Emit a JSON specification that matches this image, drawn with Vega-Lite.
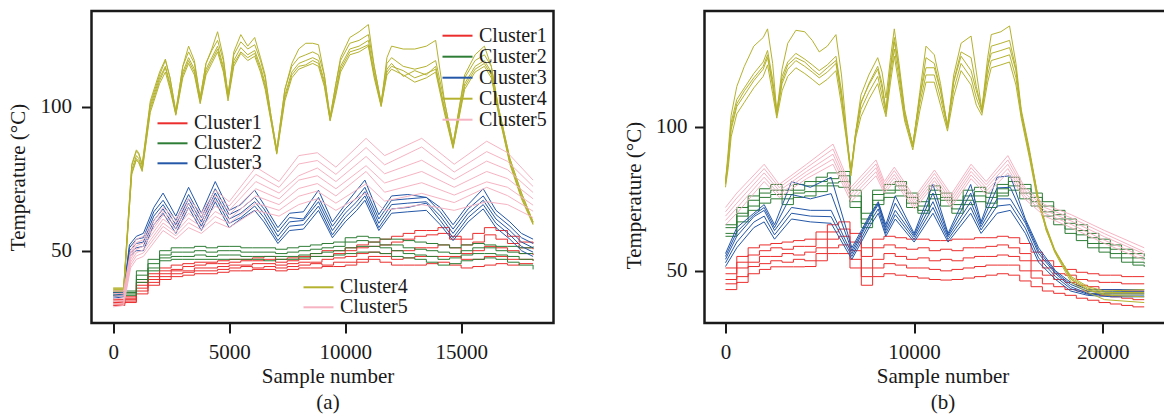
{
"$schema":"https://vega.github.io/schema/vega-lite/v6.json",
"padding":{"left":5.5,"top":9,"right":0,"bottom":0},
"spacing":66,
"config":{
"font":"Liberation Serif, serif",
"view":{"stroke":"#1a1a1a","strokeWidth":2.5},
"axis":{"labelFont":"Liberation Serif, serif","labelFontSize":21,"labelColor":"#1a1a1a","titleFont":"Liberation Serif, serif","titleFontSize":21,"titleFontWeight":"normal","titleColor":"#1a1a1a","tickColor":"#1a1a1a","tickWidth":2,"tickSize":10,"domain":false,"grid":false,"labelPadding":8,"titlePadding":3,"labelFlush":false},
"legend":{"symbolType":"M-3,0H3","symbolSize":100,"symbolStrokeWidth":2,"labelFont":"Liberation Serif, serif","labelFontSize":20,"labelColor":"#1a1a1a","labelOffset":11.5,"padding":0,"labelLimit":0}
},
"datasets":{
"a1":[
{"l":1,"x":0,"y":33},{"l":1,"x":500,"y":34},{"l":1,"x":1000,"y":39},{"l":1,"x":1500,"y":42},{"l":1,"x":2000,"y":44},{"l":1,"x":2500,"y":45},{"l":1,"x":3000,"y":45.5},{"l":1,"x":3500,"y":46},{"l":1,"x":4000,"y":46},{"l":1,"x":4500,"y":46.5},{"l":1,"x":5000,"y":47},{"l":1,"x":5500,"y":47},{"l":1,"x":6000,"y":47.5},{"l":1,"x":6500,"y":48},{"l":1,"x":7000,"y":47},{"l":1,"x":7500,"y":47.5},{"l":1,"x":8000,"y":48},{"l":1,"x":8500,"y":49},{"l":1,"x":9000,"y":50},{"l":1,"x":9500,"y":50},{"l":1,"x":10000,"y":51},{"l":1,"x":10500,"y":52},{"l":1,"x":11000,"y":53},{"l":1,"x":11500,"y":54},{"l":1,"x":12000,"y":55},{"l":1,"x":12500,"y":56},{"l":1,"x":13000,"y":57},{"l":1,"x":13500,"y":57},{"l":1,"x":14000,"y":58},{"l":1,"x":14500,"y":55},{"l":1,"x":15000,"y":54},{"l":1,"x":15500,"y":56},{"l":1,"x":16000,"y":58},{"l":1,"x":16500,"y":57},{"l":1,"x":17000,"y":55},{"l":1,"x":17500,"y":53},{"l":1,"x":18100,"y":52.5},
{"l":2,"x":0,"y":32.5},{"l":2,"x":500,"y":33.5},{"l":2,"x":1000,"y":38},{"l":2,"x":1500,"y":41},{"l":2,"x":2000,"y":43},{"l":2,"x":2500,"y":43.5},{"l":2,"x":3000,"y":44.5},{"l":2,"x":3500,"y":45},{"l":2,"x":4000,"y":45.5},{"l":2,"x":4500,"y":45.5},{"l":2,"x":5000,"y":46},{"l":2,"x":5500,"y":46.5},{"l":2,"x":6000,"y":46.5},{"l":2,"x":6500,"y":47},{"l":2,"x":7000,"y":46},{"l":2,"x":7500,"y":46.5},{"l":2,"x":8000,"y":47},{"l":2,"x":8500,"y":48},{"l":2,"x":9000,"y":48},{"l":2,"x":9500,"y":49},{"l":2,"x":10000,"y":50},{"l":2,"x":10500,"y":51},{"l":2,"x":11000,"y":51.5},{"l":2,"x":11500,"y":52},{"l":2,"x":12000,"y":53},{"l":2,"x":12500,"y":54},{"l":2,"x":13000,"y":55},{"l":2,"x":13500,"y":55.5},{"l":2,"x":14000,"y":56},{"l":2,"x":14500,"y":54},{"l":2,"x":15000,"y":52},{"l":2,"x":15500,"y":53},{"l":2,"x":16000,"y":55.5},{"l":2,"x":16500,"y":54},{"l":2,"x":17000,"y":52.5},{"l":2,"x":17500,"y":51},{"l":2,"x":18100,"y":50.5},
{"l":3,"x":0,"y":32},{"l":3,"x":500,"y":33},{"l":3,"x":1000,"y":37},{"l":3,"x":1500,"y":40},{"l":3,"x":2000,"y":42},{"l":3,"x":2500,"y":43},{"l":3,"x":3000,"y":43},{"l":3,"x":3500,"y":44},{"l":3,"x":4000,"y":44},{"l":3,"x":4500,"y":44.5},{"l":3,"x":5000,"y":45},{"l":3,"x":5500,"y":45},{"l":3,"x":6000,"y":45.5},{"l":3,"x":6500,"y":45.5},{"l":3,"x":7000,"y":45},{"l":3,"x":7500,"y":45.5},{"l":3,"x":8000,"y":46},{"l":3,"x":8500,"y":46},{"l":3,"x":9000,"y":47},{"l":3,"x":9500,"y":47.5},{"l":3,"x":10000,"y":48},{"l":3,"x":10500,"y":49},{"l":3,"x":11000,"y":49.5},{"l":3,"x":11500,"y":49},{"l":3,"x":12000,"y":50},{"l":3,"x":12500,"y":50},{"l":3,"x":13000,"y":51},{"l":3,"x":13500,"y":51},{"l":3,"x":14000,"y":52},{"l":3,"x":14500,"y":51},{"l":3,"x":15000,"y":49},{"l":3,"x":15500,"y":50},{"l":3,"x":16000,"y":51.5},{"l":3,"x":16500,"y":51},{"l":3,"x":17000,"y":50},{"l":3,"x":17500,"y":49},{"l":3,"x":18100,"y":48.5},
{"l":4,"x":0,"y":31.5},{"l":4,"x":500,"y":32.5},{"l":4,"x":1000,"y":36},{"l":4,"x":1500,"y":39},{"l":4,"x":2000,"y":41},{"l":4,"x":2500,"y":42},{"l":4,"x":3000,"y":42.5},{"l":4,"x":3500,"y":43},{"l":4,"x":4000,"y":43},{"l":4,"x":4500,"y":43.5},{"l":4,"x":5000,"y":44},{"l":4,"x":5500,"y":44.5},{"l":4,"x":6000,"y":44},{"l":4,"x":6500,"y":44.5},{"l":4,"x":7000,"y":44},{"l":4,"x":7500,"y":44.5},{"l":4,"x":8000,"y":45},{"l":4,"x":8500,"y":45.5},{"l":4,"x":9000,"y":45},{"l":4,"x":9500,"y":46},{"l":4,"x":10000,"y":46},{"l":4,"x":10500,"y":47},{"l":4,"x":11000,"y":48},{"l":4,"x":11500,"y":48},{"l":4,"x":12000,"y":47},{"l":4,"x":12500,"y":47.5},{"l":4,"x":13000,"y":48},{"l":4,"x":13500,"y":48},{"l":4,"x":14000,"y":48},{"l":4,"x":14500,"y":48},{"l":4,"x":15000,"y":47},{"l":4,"x":15500,"y":47},{"l":4,"x":16000,"y":48},{"l":4,"x":16500,"y":48},{"l":4,"x":17000,"y":47},{"l":4,"x":17500,"y":47},{"l":4,"x":18100,"y":46.5},
{"l":5,"x":0,"y":31},{"l":5,"x":500,"y":32},{"l":5,"x":1000,"y":35},{"l":5,"x":1500,"y":38},{"l":5,"x":2000,"y":40},{"l":5,"x":2500,"y":41},{"l":5,"x":3000,"y":41.5},{"l":5,"x":3500,"y":42},{"l":5,"x":4000,"y":42},{"l":5,"x":4500,"y":42.5},{"l":5,"x":5000,"y":43},{"l":5,"x":5500,"y":43},{"l":5,"x":6000,"y":43.5},{"l":5,"x":6500,"y":43.5},{"l":5,"x":7000,"y":43},{"l":5,"x":7500,"y":43.5},{"l":5,"x":8000,"y":44},{"l":5,"x":8500,"y":44},{"l":5,"x":9000,"y":44.5},{"l":5,"x":9500,"y":44.5},{"l":5,"x":10000,"y":45},{"l":5,"x":10500,"y":46},{"l":5,"x":11000,"y":47},{"l":5,"x":11500,"y":46},{"l":5,"x":12000,"y":45},{"l":5,"x":12500,"y":45},{"l":5,"x":13000,"y":45},{"l":5,"x":13500,"y":45.5},{"l":5,"x":14000,"y":46},{"l":5,"x":14500,"y":45},{"l":5,"x":15000,"y":44},{"l":5,"x":15500,"y":44.5},{"l":5,"x":16000,"y":45},{"l":5,"x":16500,"y":45.5},{"l":5,"x":17000,"y":45},{"l":5,"x":17500,"y":45.5},{"l":5,"x":18100,"y":45.5}
],
"a2":[
{"l":1,"x":0,"y":36},{"l":1,"x":500,"y":36},{"l":1,"x":1000,"y":43},{"l":1,"x":1500,"y":47},{"l":1,"x":2000,"y":50},{"l":1,"x":2500,"y":51},{"l":1,"x":3000,"y":51},{"l":1,"x":3500,"y":51.5},{"l":1,"x":4000,"y":51},{"l":1,"x":4500,"y":51.5},{"l":1,"x":5000,"y":51.5},{"l":1,"x":5500,"y":51},{"l":1,"x":6000,"y":51},{"l":1,"x":6500,"y":51},{"l":1,"x":7000,"y":50.5},{"l":1,"x":7500,"y":51},{"l":1,"x":8000,"y":51.5},{"l":1,"x":8500,"y":52},{"l":1,"x":9000,"y":52.5},{"l":1,"x":9500,"y":53},{"l":1,"x":10000,"y":54.5},{"l":1,"x":10500,"y":55},{"l":1,"x":11000,"y":54.5},{"l":1,"x":11500,"y":54},{"l":1,"x":12000,"y":54},{"l":1,"x":12500,"y":53.5},{"l":1,"x":13000,"y":53},{"l":1,"x":13500,"y":52.5},{"l":1,"x":14000,"y":52},{"l":1,"x":14500,"y":51},{"l":1,"x":15000,"y":52},{"l":1,"x":15500,"y":52.5},{"l":1,"x":16000,"y":52},{"l":1,"x":16500,"y":51.5},{"l":1,"x":17000,"y":51.5},{"l":1,"x":17500,"y":51},{"l":1,"x":18100,"y":51.5},
{"l":2,"x":0,"y":35.5},{"l":2,"x":500,"y":35.5},{"l":2,"x":1000,"y":41.5},{"l":2,"x":1500,"y":45.5},{"l":2,"x":2000,"y":48.5},{"l":2,"x":2500,"y":49.5},{"l":2,"x":3000,"y":49.5},{"l":2,"x":3500,"y":50},{"l":2,"x":4000,"y":49.5},{"l":2,"x":4500,"y":50},{"l":2,"x":5000,"y":50},{"l":2,"x":5500,"y":49.5},{"l":2,"x":6000,"y":49.5},{"l":2,"x":6500,"y":49.5},{"l":2,"x":7000,"y":49},{"l":2,"x":7500,"y":49.5},{"l":2,"x":8000,"y":50},{"l":2,"x":8500,"y":50.5},{"l":2,"x":9000,"y":51},{"l":2,"x":9500,"y":51.5},{"l":2,"x":10000,"y":53},{"l":2,"x":10500,"y":53.5},{"l":2,"x":11000,"y":53},{"l":2,"x":11500,"y":52},{"l":2,"x":12000,"y":52},{"l":2,"x":12500,"y":51},{"l":2,"x":13000,"y":50.5},{"l":2,"x":13500,"y":50},{"l":2,"x":14000,"y":49.5},{"l":2,"x":14500,"y":49},{"l":2,"x":15000,"y":50},{"l":2,"x":15500,"y":51},{"l":2,"x":16000,"y":51},{"l":2,"x":16500,"y":50},{"l":2,"x":17000,"y":49.5},{"l":2,"x":17500,"y":49},{"l":2,"x":18100,"y":49},
{"l":3,"x":0,"y":35},{"l":3,"x":500,"y":35},{"l":3,"x":1000,"y":40},{"l":3,"x":1500,"y":44},{"l":3,"x":2000,"y":47.5},{"l":3,"x":2500,"y":48},{"l":3,"x":3000,"y":48},{"l":3,"x":3500,"y":48.5},{"l":3,"x":4000,"y":48},{"l":3,"x":4500,"y":48.5},{"l":3,"x":5000,"y":48.5},{"l":3,"x":5500,"y":48},{"l":3,"x":6000,"y":48},{"l":3,"x":6500,"y":48},{"l":3,"x":7000,"y":48},{"l":3,"x":7500,"y":48},{"l":3,"x":8000,"y":48.5},{"l":3,"x":8500,"y":49},{"l":3,"x":9000,"y":49.5},{"l":3,"x":9500,"y":50},{"l":3,"x":10000,"y":51},{"l":3,"x":10500,"y":51.5},{"l":3,"x":11000,"y":51.5},{"l":3,"x":11500,"y":51},{"l":3,"x":12000,"y":50},{"l":3,"x":12500,"y":49},{"l":3,"x":13000,"y":48.5},{"l":3,"x":13500,"y":48},{"l":3,"x":14000,"y":47},{"l":3,"x":14500,"y":47.5},{"l":3,"x":15000,"y":48.5},{"l":3,"x":15500,"y":49},{"l":3,"x":16000,"y":49},{"l":3,"x":16500,"y":48.5},{"l":3,"x":17000,"y":48},{"l":3,"x":17500,"y":47},{"l":3,"x":18100,"y":46.5},
{"l":4,"x":0,"y":34.5},{"l":4,"x":500,"y":34.5},{"l":4,"x":1000,"y":39},{"l":4,"x":1500,"y":43},{"l":4,"x":2000,"y":46.5},{"l":4,"x":2500,"y":47},{"l":4,"x":3000,"y":47},{"l":4,"x":3500,"y":47},{"l":4,"x":4000,"y":47},{"l":4,"x":4500,"y":47},{"l":4,"x":5000,"y":47},{"l":4,"x":5500,"y":47},{"l":4,"x":6000,"y":47},{"l":4,"x":6500,"y":46.5},{"l":4,"x":7000,"y":47},{"l":4,"x":7500,"y":47},{"l":4,"x":8000,"y":47.5},{"l":4,"x":8500,"y":48},{"l":4,"x":9000,"y":48},{"l":4,"x":9500,"y":48.5},{"l":4,"x":10000,"y":49},{"l":4,"x":10500,"y":49.5},{"l":4,"x":11000,"y":49.5},{"l":4,"x":11500,"y":49},{"l":4,"x":12000,"y":48},{"l":4,"x":12500,"y":47.5},{"l":4,"x":13000,"y":47},{"l":4,"x":13500,"y":46},{"l":4,"x":14000,"y":45},{"l":4,"x":14500,"y":45.5},{"l":4,"x":15000,"y":46.5},{"l":4,"x":15500,"y":47},{"l":4,"x":16000,"y":47.5},{"l":4,"x":16500,"y":47},{"l":4,"x":17000,"y":46},{"l":4,"x":17500,"y":45},{"l":4,"x":18100,"y":43.5}
],
"a3":[
{"l":1,"x":0,"y":35.5},{"l":1,"x":450,"y":36},{"l":1,"x":700,"y":52},{"l":1,"x":1000,"y":55},{"l":1,"x":1300,"y":56},{"l":1,"x":1750,"y":65},{"l":1,"x":2150,"y":70},{"l":1,"x":2700,"y":62},{"l":1,"x":3250,"y":72},{"l":1,"x":3800,"y":63},{"l":1,"x":4400,"y":74},{"l":1,"x":5000,"y":64},{"l":1,"x":5500,"y":66},{"l":1,"x":6100,"y":71},{"l":1,"x":6500,"y":66},{"l":1,"x":7100,"y":58},{"l":1,"x":7600,"y":63},{"l":1,"x":8200,"y":63.5},{"l":1,"x":8850,"y":71},{"l":1,"x":9450,"y":60},{"l":1,"x":10000,"y":66},{"l":1,"x":10500,"y":71},{"l":1,"x":10850,"y":74.5},{"l":1,"x":11450,"y":62.5},{"l":1,"x":12000,"y":69},{"l":1,"x":12700,"y":69.5},{"l":1,"x":13500,"y":68.5},{"l":1,"x":14100,"y":65},{"l":1,"x":14650,"y":59},{"l":1,"x":15300,"y":66},{"l":1,"x":15950,"y":71.5},{"l":1,"x":16500,"y":64},{"l":1,"x":17100,"y":60},{"l":1,"x":17600,"y":56},{"l":1,"x":18100,"y":54},
{"l":2,"x":0,"y":35},{"l":2,"x":450,"y":35.5},{"l":2,"x":700,"y":51},{"l":2,"x":1000,"y":54},{"l":2,"x":1300,"y":54.5},{"l":2,"x":1750,"y":63.5},{"l":2,"x":2150,"y":67.5},{"l":2,"x":2700,"y":60.5},{"l":2,"x":3250,"y":69.5},{"l":2,"x":3800,"y":61.5},{"l":2,"x":4400,"y":71.5},{"l":2,"x":5000,"y":62.5},{"l":2,"x":5500,"y":64.5},{"l":2,"x":6100,"y":68.5},{"l":2,"x":6500,"y":64.5},{"l":2,"x":7100,"y":56.5},{"l":2,"x":7600,"y":61.5},{"l":2,"x":8200,"y":61},{"l":2,"x":8850,"y":68.5},{"l":2,"x":9450,"y":58.5},{"l":2,"x":10000,"y":64.5},{"l":2,"x":10500,"y":68.5},{"l":2,"x":10850,"y":72},{"l":2,"x":11450,"y":61},{"l":2,"x":12000,"y":67.5},{"l":2,"x":12700,"y":68},{"l":2,"x":13500,"y":68.5},{"l":2,"x":14100,"y":63.5},{"l":2,"x":14650,"y":57.5},{"l":2,"x":15300,"y":64.5},{"l":2,"x":15950,"y":69},{"l":2,"x":16500,"y":62.5},{"l":2,"x":17100,"y":58.5},{"l":2,"x":17600,"y":54.5},{"l":2,"x":18100,"y":52.5},
{"l":3,"x":0,"y":34.5},{"l":3,"x":450,"y":35},{"l":3,"x":700,"y":50},{"l":3,"x":1000,"y":52.5},{"l":3,"x":1300,"y":53},{"l":3,"x":1750,"y":62},{"l":3,"x":2150,"y":66},{"l":3,"x":2700,"y":59},{"l":3,"x":3250,"y":68},{"l":3,"x":3800,"y":60},{"l":3,"x":4400,"y":70},{"l":3,"x":5000,"y":61},{"l":3,"x":5500,"y":63},{"l":3,"x":6100,"y":67},{"l":3,"x":6500,"y":63},{"l":3,"x":7100,"y":55},{"l":3,"x":7600,"y":60},{"l":3,"x":8200,"y":60.5},{"l":3,"x":8850,"y":67},{"l":3,"x":9450,"y":57},{"l":3,"x":10000,"y":63},{"l":3,"x":10500,"y":67},{"l":3,"x":10850,"y":70.5},{"l":3,"x":11450,"y":59.5},{"l":3,"x":12000,"y":66},{"l":3,"x":12700,"y":66.5},{"l":3,"x":13500,"y":67},{"l":3,"x":14100,"y":62},{"l":3,"x":14650,"y":56},{"l":3,"x":15300,"y":63},{"l":3,"x":15950,"y":67.5},{"l":3,"x":16500,"y":61},{"l":3,"x":17100,"y":57},{"l":3,"x":17600,"y":53},{"l":3,"x":18100,"y":51},
{"l":4,"x":0,"y":34},{"l":4,"x":450,"y":34.5},{"l":4,"x":700,"y":49},{"l":4,"x":1000,"y":51},{"l":4,"x":1300,"y":51.5},{"l":4,"x":1750,"y":60.5},{"l":4,"x":2150,"y":64.5},{"l":4,"x":2700,"y":57.5},{"l":4,"x":3250,"y":66.5},{"l":4,"x":3800,"y":58.5},{"l":4,"x":4400,"y":68.5},{"l":4,"x":5000,"y":59.5},{"l":4,"x":5500,"y":61.5},{"l":4,"x":6100,"y":65.5},{"l":4,"x":6500,"y":61.5},{"l":4,"x":7100,"y":53.5},{"l":4,"x":7600,"y":58.5},{"l":4,"x":8200,"y":59},{"l":4,"x":8850,"y":65.5},{"l":4,"x":9450,"y":55.5},{"l":4,"x":10000,"y":61.5},{"l":4,"x":10500,"y":65.5},{"l":4,"x":10850,"y":69},{"l":4,"x":11450,"y":58},{"l":4,"x":12000,"y":64.5},{"l":4,"x":12700,"y":65},{"l":4,"x":13500,"y":66.5},{"l":4,"x":14100,"y":60.5},{"l":4,"x":14650,"y":54.5},{"l":4,"x":15300,"y":61.5},{"l":4,"x":15950,"y":66},{"l":4,"x":16500,"y":59.5},{"l":4,"x":17100,"y":55.5},{"l":4,"x":17600,"y":51.5},{"l":4,"x":18100,"y":49.5},
{"l":5,"x":0,"y":33.5},{"l":5,"x":450,"y":34},{"l":5,"x":700,"y":48},{"l":5,"x":1000,"y":50},{"l":5,"x":1300,"y":50},{"l":5,"x":1750,"y":59},{"l":5,"x":2150,"y":63},{"l":5,"x":2700,"y":56},{"l":5,"x":3250,"y":65},{"l":5,"x":3800,"y":57},{"l":5,"x":4400,"y":67},{"l":5,"x":5000,"y":58},{"l":5,"x":5500,"y":61},{"l":5,"x":6100,"y":64},{"l":5,"x":6500,"y":60},{"l":5,"x":7100,"y":52.5},{"l":5,"x":7600,"y":57},{"l":5,"x":8200,"y":57.5},{"l":5,"x":8850,"y":64},{"l":5,"x":9450,"y":54.5},{"l":5,"x":10000,"y":60},{"l":5,"x":10500,"y":64},{"l":5,"x":10850,"y":67.5},{"l":5,"x":11450,"y":57},{"l":5,"x":12000,"y":63},{"l":5,"x":12700,"y":63.5},{"l":5,"x":13500,"y":64},{"l":5,"x":14100,"y":59},{"l":5,"x":14650,"y":53.5},{"l":5,"x":15300,"y":60},{"l":5,"x":15950,"y":64.5},{"l":5,"x":16500,"y":58},{"l":5,"x":17100,"y":54},{"l":5,"x":17600,"y":50},{"l":5,"x":18100,"y":48}
],
"a4":[
{"l":1,"x":0,"y":37},{"l":1,"x":450,"y":37},{"l":1,"x":800,"y":80},{"l":1,"x":1000,"y":85},{"l":1,"x":1100,"y":84},{"l":1,"x":1250,"y":80},{"l":1,"x":1600,"y":102},{"l":1,"x":1800,"y":107},{"l":1,"x":2000,"y":112},{"l":1,"x":2250,"y":116.5},{"l":1,"x":2450,"y":110},{"l":1,"x":2700,"y":98},{"l":1,"x":3000,"y":114},{"l":1,"x":3250,"y":121},{"l":1,"x":3500,"y":116},{"l":1,"x":3750,"y":103},{"l":1,"x":4000,"y":115},{"l":1,"x":4250,"y":120},{"l":1,"x":4500,"y":126},{"l":1,"x":4750,"y":117},{"l":1,"x":4950,"y":104},{"l":1,"x":5200,"y":119},{"l":1,"x":5500,"y":125},{"l":1,"x":5800,"y":121},{"l":1,"x":6100,"y":124},{"l":1,"x":6350,"y":117},{"l":1,"x":6550,"y":111},{"l":1,"x":6800,"y":97},{"l":1,"x":7050,"y":85},{"l":1,"x":7400,"y":106},{"l":1,"x":7700,"y":115},{"l":1,"x":8000,"y":120},{"l":1,"x":8300,"y":122},{"l":1,"x":8600,"y":122},{"l":1,"x":8850,"y":121.5},{"l":1,"x":9100,"y":111},{"l":1,"x":9350,"y":96},{"l":1,"x":9600,"y":108},{"l":1,"x":9800,"y":117},{"l":1,"x":10200,"y":124},{"l":1,"x":10600,"y":126},{"l":1,"x":11000,"y":128.5},{"l":1,"x":11250,"y":114},{"l":1,"x":11550,"y":101},{"l":1,"x":11800,"y":117},{"l":1,"x":12000,"y":121},{"l":1,"x":12500,"y":120},{"l":1,"x":13000,"y":120},{"l":1,"x":13500,"y":121},{"l":1,"x":13900,"y":123},{"l":1,"x":14300,"y":101},{"l":1,"x":14650,"y":87},{"l":1,"x":15150,"y":111},{"l":1,"x":15600,"y":118},{"l":1,"x":16000,"y":121},{"l":1,"x":16300,"y":114},{"l":1,"x":16600,"y":100},{"l":1,"x":17100,"y":82},{"l":1,"x":17600,"y":70},{"l":1,"x":18100,"y":60},
{"l":2,"x":0,"y":37},{"l":2,"x":450,"y":37},{"l":2,"x":800,"y":79.5},{"l":2,"x":1000,"y":84.5},{"l":2,"x":1100,"y":83.5},{"l":2,"x":1250,"y":79.5},{"l":2,"x":1600,"y":101},{"l":2,"x":1800,"y":106},{"l":2,"x":2000,"y":111},{"l":2,"x":2250,"y":116},{"l":2,"x":2450,"y":110},{"l":2,"x":2700,"y":98.5},{"l":2,"x":3000,"y":114},{"l":2,"x":3250,"y":119},{"l":2,"x":3500,"y":115},{"l":2,"x":3750,"y":103},{"l":2,"x":4000,"y":115},{"l":2,"x":4250,"y":119.5},{"l":2,"x":4500,"y":123},{"l":2,"x":4750,"y":116},{"l":2,"x":4950,"y":104},{"l":2,"x":5200,"y":118},{"l":2,"x":5500,"y":122.5},{"l":2,"x":5800,"y":120},{"l":2,"x":6100,"y":121.5},{"l":2,"x":6350,"y":116},{"l":2,"x":6550,"y":110},{"l":2,"x":6800,"y":97},{"l":2,"x":7050,"y":85},{"l":2,"x":7400,"y":106},{"l":2,"x":7700,"y":114},{"l":2,"x":8000,"y":117},{"l":2,"x":8300,"y":118},{"l":2,"x":8600,"y":119},{"l":2,"x":8850,"y":118},{"l":2,"x":9100,"y":111},{"l":2,"x":9350,"y":96.5},{"l":2,"x":9600,"y":108},{"l":2,"x":9800,"y":116},{"l":2,"x":10200,"y":122},{"l":2,"x":10600,"y":123},{"l":2,"x":11000,"y":125},{"l":2,"x":11250,"y":114},{"l":2,"x":11550,"y":101.5},{"l":2,"x":11800,"y":115},{"l":2,"x":12000,"y":117},{"l":2,"x":12500,"y":114},{"l":2,"x":13000,"y":113},{"l":2,"x":13500,"y":114},{"l":2,"x":13900,"y":116},{"l":2,"x":14300,"y":101},{"l":2,"x":14650,"y":87},{"l":2,"x":15150,"y":110},{"l":2,"x":15600,"y":116},{"l":2,"x":16000,"y":118},{"l":2,"x":16300,"y":114},{"l":2,"x":16600,"y":100},{"l":2,"x":17100,"y":82},{"l":2,"x":17600,"y":70},{"l":2,"x":18100,"y":60},
{"l":3,"x":0,"y":36.5},{"l":3,"x":450,"y":36.5},{"l":3,"x":800,"y":78},{"l":3,"x":1000,"y":83},{"l":3,"x":1100,"y":82},{"l":3,"x":1250,"y":78.5},{"l":3,"x":1600,"y":100},{"l":3,"x":1800,"y":105},{"l":3,"x":2000,"y":110},{"l":3,"x":2250,"y":114},{"l":3,"x":2450,"y":108},{"l":3,"x":2700,"y":97.5},{"l":3,"x":3000,"y":112},{"l":3,"x":3250,"y":117},{"l":3,"x":3500,"y":113},{"l":3,"x":3750,"y":102},{"l":3,"x":4000,"y":113},{"l":3,"x":4250,"y":117},{"l":3,"x":4500,"y":121},{"l":3,"x":4750,"y":114},{"l":3,"x":4950,"y":103},{"l":3,"x":5200,"y":116},{"l":3,"x":5500,"y":120.5},{"l":3,"x":5800,"y":118},{"l":3,"x":6100,"y":119.5},{"l":3,"x":6350,"y":114},{"l":3,"x":6550,"y":108},{"l":3,"x":6800,"y":96},{"l":3,"x":7050,"y":84},{"l":3,"x":7400,"y":104},{"l":3,"x":7700,"y":112},{"l":3,"x":8000,"y":115},{"l":3,"x":8300,"y":116},{"l":3,"x":8600,"y":117},{"l":3,"x":8850,"y":116},{"l":3,"x":9100,"y":109},{"l":3,"x":9350,"y":95.5},{"l":3,"x":9600,"y":106},{"l":3,"x":9800,"y":114},{"l":3,"x":10200,"y":120},{"l":3,"x":10600,"y":121},{"l":3,"x":11000,"y":123},{"l":3,"x":11250,"y":112},{"l":3,"x":11550,"y":100.5},{"l":3,"x":11800,"y":113},{"l":3,"x":12000,"y":115},{"l":3,"x":12500,"y":110.5},{"l":3,"x":13000,"y":112.5},{"l":3,"x":13500,"y":111},{"l":3,"x":13900,"y":114},{"l":3,"x":14300,"y":99},{"l":3,"x":14650,"y":86},{"l":3,"x":15150,"y":108},{"l":3,"x":15600,"y":114},{"l":3,"x":16000,"y":116},{"l":3,"x":16300,"y":112},{"l":3,"x":16600,"y":99},{"l":3,"x":17100,"y":81},{"l":3,"x":17600,"y":69},{"l":3,"x":18100,"y":59.5},
{"l":4,"x":0,"y":36},{"l":4,"x":450,"y":36},{"l":4,"x":800,"y":76.5},{"l":4,"x":1000,"y":81.5},{"l":4,"x":1100,"y":80.5},{"l":4,"x":1250,"y":77.5},{"l":4,"x":1600,"y":98},{"l":4,"x":1800,"y":103},{"l":4,"x":2000,"y":108},{"l":4,"x":2250,"y":112},{"l":4,"x":2450,"y":106},{"l":4,"x":2700,"y":97},{"l":4,"x":3000,"y":110},{"l":4,"x":3250,"y":115},{"l":4,"x":3500,"y":111},{"l":4,"x":3750,"y":101},{"l":4,"x":4000,"y":111},{"l":4,"x":4250,"y":115},{"l":4,"x":4500,"y":119},{"l":4,"x":4750,"y":112},{"l":4,"x":4950,"y":102},{"l":4,"x":5200,"y":114},{"l":4,"x":5500,"y":118.5},{"l":4,"x":5800,"y":116},{"l":4,"x":6100,"y":117.5},{"l":4,"x":6350,"y":112},{"l":4,"x":6550,"y":106},{"l":4,"x":6800,"y":95},{"l":4,"x":7050,"y":83.5},{"l":4,"x":7400,"y":102},{"l":4,"x":7700,"y":110},{"l":4,"x":8000,"y":113},{"l":4,"x":8300,"y":114},{"l":4,"x":8600,"y":115},{"l":4,"x":8850,"y":114},{"l":4,"x":9100,"y":107},{"l":4,"x":9350,"y":95},{"l":4,"x":9600,"y":104},{"l":4,"x":9800,"y":112},{"l":4,"x":10200,"y":118},{"l":4,"x":10600,"y":119},{"l":4,"x":11000,"y":121},{"l":4,"x":11250,"y":110},{"l":4,"x":11550,"y":100},{"l":4,"x":11800,"y":111},{"l":4,"x":12000,"y":113},{"l":4,"x":12500,"y":111},{"l":4,"x":13000,"y":108.5},{"l":4,"x":13500,"y":110},{"l":4,"x":13900,"y":112},{"l":4,"x":14300,"y":97},{"l":4,"x":14650,"y":85.5},{"l":4,"x":15150,"y":106},{"l":4,"x":15600,"y":112},{"l":4,"x":16000,"y":114},{"l":4,"x":16300,"y":110},{"l":4,"x":16600,"y":98},{"l":4,"x":17100,"y":80},{"l":4,"x":17600,"y":68},{"l":4,"x":18100,"y":59},
{"l":5,"x":0,"y":36},{"l":5,"x":450,"y":36},{"l":5,"x":800,"y":77},{"l":5,"x":1000,"y":82},{"l":5,"x":1100,"y":81},{"l":5,"x":1250,"y":78},{"l":5,"x":1600,"y":99},{"l":5,"x":1800,"y":104},{"l":5,"x":2000,"y":109},{"l":5,"x":2250,"y":113.5},{"l":5,"x":2450,"y":107},{"l":5,"x":2700,"y":97.5},{"l":5,"x":3000,"y":111},{"l":5,"x":3250,"y":116},{"l":5,"x":3500,"y":112},{"l":5,"x":3750,"y":101.5},{"l":5,"x":4000,"y":112},{"l":5,"x":4250,"y":116},{"l":5,"x":4500,"y":120},{"l":5,"x":4750,"y":113},{"l":5,"x":4950,"y":103},{"l":5,"x":5200,"y":115},{"l":5,"x":5500,"y":119},{"l":5,"x":5800,"y":117},{"l":5,"x":6100,"y":118.5},{"l":5,"x":6350,"y":113},{"l":5,"x":6550,"y":107},{"l":5,"x":6800,"y":95.5},{"l":5,"x":7050,"y":84},{"l":5,"x":7400,"y":103},{"l":5,"x":7700,"y":111},{"l":5,"x":8000,"y":114},{"l":5,"x":8300,"y":114.5},{"l":5,"x":8600,"y":116},{"l":5,"x":8850,"y":115},{"l":5,"x":9100,"y":108},{"l":5,"x":9350,"y":95.5},{"l":5,"x":9600,"y":105},{"l":5,"x":9800,"y":113},{"l":5,"x":10200,"y":119},{"l":5,"x":10600,"y":120},{"l":5,"x":11000,"y":121.5},{"l":5,"x":11250,"y":111},{"l":5,"x":11550,"y":100.5},{"l":5,"x":11800,"y":112},{"l":5,"x":12000,"y":114},{"l":5,"x":12500,"y":112.5},{"l":5,"x":13000,"y":110},{"l":5,"x":13500,"y":111.5},{"l":5,"x":13900,"y":113},{"l":5,"x":14300,"y":98},{"l":5,"x":14650,"y":86},{"l":5,"x":15150,"y":107},{"l":5,"x":15600,"y":113},{"l":5,"x":16000,"y":115},{"l":5,"x":16300,"y":111},{"l":5,"x":16600,"y":98.5},{"l":5,"x":17100,"y":80.5},{"l":5,"x":17600,"y":68.5},{"l":5,"x":18100,"y":59.5}
],
"a5":[
{"l":1,"x":0,"y":36},{"l":1,"x":450,"y":36},{"l":1,"x":750,"y":50},{"l":1,"x":1000,"y":54},{"l":1,"x":1300,"y":55},{"l":1,"x":2150,"y":65},{"l":1,"x":2700,"y":61},{"l":1,"x":3250,"y":68},{"l":1,"x":3800,"y":63},{"l":1,"x":4400,"y":71},{"l":1,"x":5000,"y":67},{"l":1,"x":6150,"y":79},{"l":1,"x":7150,"y":74},{"l":1,"x":8000,"y":83},{"l":1,"x":8800,"y":84},{"l":1,"x":9600,"y":79},{"l":1,"x":10900,"y":89},{"l":1,"x":11700,"y":83},{"l":1,"x":13300,"y":89},{"l":1,"x":14700,"y":80},{"l":1,"x":16100,"y":88},{"l":1,"x":17000,"y":84},{"l":1,"x":18100,"y":74.5},
{"l":2,"x":0,"y":35.1},{"l":2,"x":450,"y":35.2},{"l":2,"x":750,"y":49},{"l":2,"x":1000,"y":52.8},{"l":2,"x":1300,"y":53.8},{"l":2,"x":2150,"y":63.6},{"l":2,"x":2700,"y":59.8},{"l":2,"x":3250,"y":66.3},{"l":2,"x":3800,"y":61.8},{"l":2,"x":4400,"y":69.1},{"l":2,"x":5000,"y":65.5},{"l":2,"x":6150,"y":76.5},{"l":2,"x":7150,"y":72},{"l":2,"x":8000,"y":80.1},{"l":2,"x":8800,"y":81.3},{"l":2,"x":9600,"y":76.5},{"l":2,"x":10900,"y":85.8},{"l":2,"x":11700,"y":79.8},{"l":2,"x":13300,"y":86},{"l":2,"x":14700,"y":77.3},{"l":2,"x":16100,"y":84.4},{"l":2,"x":17000,"y":81},{"l":2,"x":18100,"y":72.3},
{"l":3,"x":0,"y":34.2},{"l":3,"x":450,"y":34.4},{"l":3,"x":750,"y":48},{"l":3,"x":1000,"y":51.7},{"l":3,"x":1300,"y":52.7},{"l":3,"x":2150,"y":62.4},{"l":3,"x":2700,"y":58.7},{"l":3,"x":3250,"y":64.7},{"l":3,"x":3800,"y":60.7},{"l":3,"x":4400,"y":67.4},{"l":3,"x":5000,"y":64},{"l":3,"x":6150,"y":74},{"l":3,"x":7150,"y":70},{"l":3,"x":8000,"y":76},{"l":3,"x":8800,"y":78.7},{"l":3,"x":9600,"y":74},{"l":3,"x":10900,"y":82.7},{"l":3,"x":11700,"y":76.7},{"l":3,"x":13300,"y":81.4},{"l":3,"x":14700,"y":74.7},{"l":3,"x":16100,"y":81.1},{"l":3,"x":17000,"y":78.1},{"l":3,"x":18100,"y":70.2},
{"l":4,"x":0,"y":33.3},{"l":4,"x":450,"y":33.5},{"l":4,"x":750,"y":47},{"l":4,"x":1000,"y":50.5},{"l":4,"x":1300,"y":51.5},{"l":4,"x":2150,"y":61},{"l":4,"x":2700,"y":57.5},{"l":4,"x":3250,"y":63},{"l":4,"x":3800,"y":59.5},{"l":4,"x":4400,"y":65.5},{"l":4,"x":5000,"y":62.5},{"l":4,"x":6150,"y":71.5},{"l":4,"x":7150,"y":68},{"l":4,"x":8000,"y":74.5},{"l":4,"x":8800,"y":76},{"l":4,"x":9600,"y":71.5},{"l":4,"x":10900,"y":79.5},{"l":4,"x":11700,"y":73.5},{"l":4,"x":13300,"y":77.5},{"l":4,"x":14700,"y":72},{"l":4,"x":16100,"y":77.5},{"l":4,"x":17000,"y":75},{"l":4,"x":18100,"y":68},
{"l":5,"x":0,"y":32.3},{"l":5,"x":450,"y":32.7},{"l":5,"x":750,"y":46},{"l":5,"x":1000,"y":49.3},{"l":5,"x":1300,"y":50.3},{"l":5,"x":2150,"y":59.6},{"l":5,"x":2700,"y":56.3},{"l":5,"x":3250,"y":61.3},{"l":5,"x":3800,"y":58.3},{"l":5,"x":4400,"y":63.6},{"l":5,"x":5000,"y":61},{"l":5,"x":6150,"y":69},{"l":5,"x":7150,"y":66},{"l":5,"x":8000,"y":71.6},{"l":5,"x":8800,"y":73.3},{"l":5,"x":9600,"y":69},{"l":5,"x":10900,"y":77.5},{"l":5,"x":11700,"y":70.3},{"l":5,"x":13300,"y":73.6},{"l":5,"x":14700,"y":69.3},{"l":5,"x":16100,"y":73.9},{"l":5,"x":17000,"y":72},{"l":5,"x":18100,"y":65.8},
{"l":6,"x":0,"y":31.4},{"l":6,"x":450,"y":31.9},{"l":6,"x":750,"y":45},{"l":6,"x":1000,"y":48.2},{"l":6,"x":1300,"y":49.2},{"l":6,"x":2150,"y":58.4},{"l":6,"x":2700,"y":55.2},{"l":6,"x":3250,"y":59.7},{"l":6,"x":3800,"y":57.2},{"l":6,"x":4400,"y":61.9},{"l":6,"x":5000,"y":59.5},{"l":6,"x":6150,"y":66.5},{"l":6,"x":7150,"y":64},{"l":6,"x":8000,"y":68.9},{"l":6,"x":8800,"y":70.7},{"l":6,"x":9600,"y":66.5},{"l":6,"x":10900,"y":73.2},{"l":6,"x":11700,"y":67.2},{"l":6,"x":13300,"y":69.9},{"l":6,"x":14700,"y":66.7},{"l":6,"x":16100,"y":72},{"l":6,"x":17000,"y":69.1},{"l":6,"x":18100,"y":63.7},
{"l":7,"x":0,"y":30.5},{"l":7,"x":450,"y":31},{"l":7,"x":750,"y":44},{"l":7,"x":1000,"y":47},{"l":7,"x":1300,"y":48},{"l":7,"x":2150,"y":57},{"l":7,"x":2700,"y":54},{"l":7,"x":3250,"y":58},{"l":7,"x":3800,"y":56},{"l":7,"x":4400,"y":60},{"l":7,"x":5000,"y":58},{"l":7,"x":6150,"y":64},{"l":7,"x":7150,"y":62},{"l":7,"x":8000,"y":66},{"l":7,"x":8800,"y":68},{"l":7,"x":9600,"y":64},{"l":7,"x":10900,"y":70},{"l":7,"x":11700,"y":64},{"l":7,"x":13300,"y":66},{"l":7,"x":14700,"y":64},{"l":7,"x":16100,"y":67},{"l":7,"x":17000,"y":66},{"l":7,"x":18100,"y":61.5}
],
"b1":[
{"l":1,"x":0,"y":51},{"l":1,"x":600,"y":55},{"l":1,"x":1200,"y":58},{"l":1,"x":1800,"y":59},{"l":1,"x":2400,"y":59.5},{"l":1,"x":3000,"y":60},{"l":1,"x":3600,"y":60.5},{"l":1,"x":4200,"y":61},{"l":1,"x":4800,"y":63.5},{"l":1,"x":5400,"y":66},{"l":1,"x":6000,"y":67},{"l":1,"x":6600,"y":63},{"l":1,"x":7200,"y":58},{"l":1,"x":7800,"y":61},{"l":1,"x":8400,"y":62},{"l":1,"x":9000,"y":61.5},{"l":1,"x":9600,"y":61},{"l":1,"x":10200,"y":61},{"l":1,"x":10800,"y":60.5},{"l":1,"x":11400,"y":60.5},{"l":1,"x":12000,"y":61},{"l":1,"x":12600,"y":61},{"l":1,"x":13200,"y":61.5},{"l":1,"x":13800,"y":61.5},{"l":1,"x":14400,"y":62},{"l":1,"x":15000,"y":61.5},{"l":1,"x":15600,"y":59.5},{"l":1,"x":16200,"y":56.5},{"l":1,"x":16800,"y":53.5},{"l":1,"x":17400,"y":51.5},{"l":1,"x":18000,"y":50.5},{"l":1,"x":18600,"y":49.5},{"l":1,"x":19200,"y":49},{"l":1,"x":19800,"y":48.5},{"l":1,"x":20400,"y":48.5},{"l":1,"x":21000,"y":48},{"l":1,"x":21600,"y":48},{"l":1,"x":22200,"y":48},
{"l":2,"x":0,"y":49},{"l":2,"x":600,"y":53},{"l":2,"x":1200,"y":55.5},{"l":2,"x":1800,"y":57},{"l":2,"x":2400,"y":58},{"l":2,"x":3000,"y":57.5},{"l":2,"x":3600,"y":58.5},{"l":2,"x":4200,"y":58.5},{"l":2,"x":4800,"y":61},{"l":2,"x":5400,"y":63.5},{"l":2,"x":6000,"y":64.5},{"l":2,"x":6600,"y":60},{"l":2,"x":7200,"y":55},{"l":2,"x":7800,"y":58},{"l":2,"x":8400,"y":59},{"l":2,"x":9000,"y":58},{"l":2,"x":9600,"y":57.5},{"l":2,"x":10200,"y":58},{"l":2,"x":10800,"y":57},{"l":2,"x":11400,"y":57.5},{"l":2,"x":12000,"y":57},{"l":2,"x":12600,"y":58},{"l":2,"x":13200,"y":58},{"l":2,"x":13800,"y":58.5},{"l":2,"x":14400,"y":59},{"l":2,"x":15000,"y":58},{"l":2,"x":15600,"y":56},{"l":2,"x":16200,"y":53.5},{"l":2,"x":16800,"y":51},{"l":2,"x":17400,"y":49},{"l":2,"x":18000,"y":48.5},{"l":2,"x":18600,"y":47},{"l":2,"x":19200,"y":46.5},{"l":2,"x":19800,"y":46},{"l":2,"x":20400,"y":46},{"l":2,"x":21000,"y":45.5},{"l":2,"x":21600,"y":45.5},{"l":2,"x":22200,"y":45.5},
{"l":3,"x":0,"y":47},{"l":3,"x":600,"y":51},{"l":3,"x":1200,"y":53},{"l":3,"x":1800,"y":55},{"l":3,"x":2400,"y":55},{"l":3,"x":3000,"y":56},{"l":3,"x":3600,"y":55.5},{"l":3,"x":4200,"y":56.5},{"l":3,"x":4800,"y":58},{"l":3,"x":5400,"y":61},{"l":3,"x":6000,"y":62},{"l":3,"x":6600,"y":57},{"l":3,"x":7200,"y":51},{"l":3,"x":7800,"y":54},{"l":3,"x":8400,"y":56},{"l":3,"x":9000,"y":55},{"l":3,"x":9600,"y":54},{"l":3,"x":10200,"y":54.5},{"l":3,"x":10800,"y":53.5},{"l":3,"x":11400,"y":54},{"l":3,"x":12000,"y":53.5},{"l":3,"x":12600,"y":54.5},{"l":3,"x":13200,"y":55},{"l":3,"x":13800,"y":55},{"l":3,"x":14400,"y":55.5},{"l":3,"x":15000,"y":55},{"l":3,"x":15600,"y":53.5},{"l":3,"x":16200,"y":50},{"l":3,"x":16800,"y":48.5},{"l":3,"x":17400,"y":47},{"l":3,"x":18000,"y":46},{"l":3,"x":18600,"y":45},{"l":3,"x":19200,"y":44.5},{"l":3,"x":19800,"y":43.5},{"l":3,"x":20400,"y":43.5},{"l":3,"x":21000,"y":43},{"l":3,"x":21600,"y":43},{"l":3,"x":22200,"y":43},
{"l":4,"x":0,"y":45.5},{"l":4,"x":600,"y":48},{"l":4,"x":1200,"y":51.5},{"l":4,"x":1800,"y":52.5},{"l":4,"x":2400,"y":53.5},{"l":4,"x":3000,"y":53},{"l":4,"x":3600,"y":54},{"l":4,"x":4200,"y":53.5},{"l":4,"x":4800,"y":56},{"l":4,"x":5400,"y":58},{"l":4,"x":6000,"y":59},{"l":4,"x":6600,"y":54},{"l":4,"x":7200,"y":48},{"l":4,"x":7800,"y":51},{"l":4,"x":8400,"y":52.5},{"l":4,"x":9000,"y":52},{"l":4,"x":9600,"y":51},{"l":4,"x":10200,"y":51},{"l":4,"x":10800,"y":50.5},{"l":4,"x":11400,"y":50},{"l":4,"x":12000,"y":50.5},{"l":4,"x":12600,"y":51},{"l":4,"x":13200,"y":51.5},{"l":4,"x":13800,"y":52},{"l":4,"x":14400,"y":52},{"l":4,"x":15000,"y":52},{"l":4,"x":15600,"y":50},{"l":4,"x":16200,"y":47.5},{"l":4,"x":16800,"y":45.5},{"l":4,"x":17400,"y":44.5},{"l":4,"x":18000,"y":43.5},{"l":4,"x":18600,"y":43},{"l":4,"x":19200,"y":42},{"l":4,"x":19800,"y":41.5},{"l":4,"x":20400,"y":41},{"l":4,"x":21000,"y":40.5},{"l":4,"x":21600,"y":40},{"l":4,"x":22200,"y":40},
{"l":5,"x":0,"y":43.5},{"l":5,"x":600,"y":46},{"l":5,"x":1200,"y":49},{"l":5,"x":1800,"y":50.5},{"l":5,"x":2400,"y":51.4},{"l":5,"x":3000,"y":51.4},{"l":5,"x":3600,"y":51.4},{"l":5,"x":4200,"y":51.5},{"l":5,"x":4800,"y":53.5},{"l":5,"x":5400,"y":56},{"l":5,"x":6000,"y":56},{"l":5,"x":6600,"y":51},{"l":5,"x":7200,"y":45},{"l":5,"x":7800,"y":48},{"l":5,"x":8400,"y":49},{"l":5,"x":9000,"y":48.5},{"l":5,"x":9600,"y":48},{"l":5,"x":10200,"y":47.5},{"l":5,"x":10800,"y":47},{"l":5,"x":11400,"y":46.8},{"l":5,"x":12000,"y":47},{"l":5,"x":12600,"y":47.5},{"l":5,"x":13200,"y":48},{"l":5,"x":13800,"y":48.5},{"l":5,"x":14400,"y":49},{"l":5,"x":15000,"y":48.5},{"l":5,"x":15600,"y":46.5},{"l":5,"x":16200,"y":44.5},{"l":5,"x":16800,"y":43},{"l":5,"x":17400,"y":42.2},{"l":5,"x":18000,"y":41.5},{"l":5,"x":18600,"y":40.5},{"l":5,"x":19200,"y":39.8},{"l":5,"x":19800,"y":39},{"l":5,"x":20400,"y":38.5},{"l":5,"x":21000,"y":38},{"l":5,"x":21600,"y":37.5},{"l":5,"x":22200,"y":37.5}
],
"b2":[
{"l":1,"x":0,"y":66},{"l":1,"x":600,"y":72},{"l":1,"x":1200,"y":76},{"l":1,"x":1800,"y":78.5},{"l":1,"x":2400,"y":80},{"l":1,"x":3000,"y":78},{"l":1,"x":3600,"y":80},{"l":1,"x":4200,"y":81},{"l":1,"x":4800,"y":82.5},{"l":1,"x":5400,"y":84},{"l":1,"x":6000,"y":84.5},{"l":1,"x":6600,"y":78},{"l":1,"x":7200,"y":70},{"l":1,"x":7800,"y":78},{"l":1,"x":8400,"y":80},{"l":1,"x":9000,"y":81},{"l":1,"x":9600,"y":77},{"l":1,"x":10200,"y":74},{"l":1,"x":10800,"y":79.5},{"l":1,"x":11400,"y":77},{"l":1,"x":12000,"y":74.5},{"l":1,"x":12600,"y":78},{"l":1,"x":13200,"y":79},{"l":1,"x":13800,"y":77},{"l":1,"x":14400,"y":80},{"l":1,"x":15000,"y":82.5},{"l":1,"x":15600,"y":80},{"l":1,"x":16200,"y":77},{"l":1,"x":16800,"y":74},{"l":1,"x":17400,"y":71},{"l":1,"x":18000,"y":68},{"l":1,"x":18600,"y":66},{"l":1,"x":19200,"y":63},{"l":1,"x":19800,"y":61},{"l":1,"x":20400,"y":59},{"l":1,"x":21000,"y":57.5},{"l":1,"x":21600,"y":56},{"l":1,"x":22200,"y":55},
{"l":2,"x":0,"y":65},{"l":2,"x":600,"y":70},{"l":2,"x":1200,"y":74.5},{"l":2,"x":1800,"y":77},{"l":2,"x":2400,"y":78},{"l":2,"x":3000,"y":76.5},{"l":2,"x":3600,"y":78},{"l":2,"x":4200,"y":79.5},{"l":2,"x":4800,"y":81},{"l":2,"x":5400,"y":82},{"l":2,"x":6000,"y":83},{"l":2,"x":6600,"y":76},{"l":2,"x":7200,"y":68},{"l":2,"x":7800,"y":76.5},{"l":2,"x":8400,"y":78},{"l":2,"x":9000,"y":79.5},{"l":2,"x":9600,"y":75.5},{"l":2,"x":10200,"y":72.5},{"l":2,"x":10800,"y":78},{"l":2,"x":11400,"y":75.5},{"l":2,"x":12000,"y":73},{"l":2,"x":12600,"y":76},{"l":2,"x":13200,"y":77.5},{"l":2,"x":13800,"y":75.5},{"l":2,"x":14400,"y":78.5},{"l":2,"x":15000,"y":81},{"l":2,"x":15600,"y":78.5},{"l":2,"x":16200,"y":75.5},{"l":2,"x":16800,"y":72.5},{"l":2,"x":17400,"y":69.5},{"l":2,"x":18000,"y":66.5},{"l":2,"x":18600,"y":64},{"l":2,"x":19200,"y":61.5},{"l":2,"x":19800,"y":59.5},{"l":2,"x":20400,"y":57.5},{"l":2,"x":21000,"y":56},{"l":2,"x":21600,"y":54.5},{"l":2,"x":22200,"y":54},
{"l":3,"x":0,"y":63},{"l":3,"x":600,"y":69},{"l":3,"x":1200,"y":72.5},{"l":3,"x":1800,"y":75.5},{"l":3,"x":2400,"y":76.5},{"l":3,"x":3000,"y":75},{"l":3,"x":3600,"y":77},{"l":3,"x":4200,"y":77.5},{"l":3,"x":4800,"y":79.5},{"l":3,"x":5400,"y":80.5},{"l":3,"x":6000,"y":81},{"l":3,"x":6600,"y":74},{"l":3,"x":7200,"y":66.5},{"l":3,"x":7800,"y":74.5},{"l":3,"x":8400,"y":77},{"l":3,"x":9000,"y":78},{"l":3,"x":9600,"y":73.5},{"l":3,"x":10200,"y":71},{"l":3,"x":10800,"y":76.5},{"l":3,"x":11400,"y":74.5},{"l":3,"x":12000,"y":71.5},{"l":3,"x":12600,"y":74.5},{"l":3,"x":13200,"y":76},{"l":3,"x":13800,"y":73.5},{"l":3,"x":14400,"y":77},{"l":3,"x":15000,"y":79.5},{"l":3,"x":15600,"y":77},{"l":3,"x":16200,"y":74},{"l":3,"x":16800,"y":70.5},{"l":3,"x":17400,"y":68},{"l":3,"x":18000,"y":64.5},{"l":3,"x":18600,"y":62.5},{"l":3,"x":19200,"y":59.5},{"l":3,"x":19800,"y":58},{"l":3,"x":20400,"y":56},{"l":3,"x":21000,"y":54.5},{"l":3,"x":21600,"y":53},{"l":3,"x":22200,"y":52.5},
{"l":4,"x":0,"y":62},{"l":4,"x":600,"y":67},{"l":4,"x":1200,"y":71},{"l":4,"x":1800,"y":73.5},{"l":4,"x":2400,"y":75},{"l":4,"x":3000,"y":73},{"l":4,"x":3600,"y":75.5},{"l":4,"x":4200,"y":76},{"l":4,"x":4800,"y":77.5},{"l":4,"x":5400,"y":79.5},{"l":4,"x":6000,"y":79},{"l":4,"x":6600,"y":72},{"l":4,"x":7200,"y":65},{"l":4,"x":7800,"y":73},{"l":4,"x":8400,"y":75.5},{"l":4,"x":9000,"y":76},{"l":4,"x":9600,"y":72},{"l":4,"x":10200,"y":70},{"l":4,"x":10800,"y":75},{"l":4,"x":11400,"y":72.5},{"l":4,"x":12000,"y":70},{"l":4,"x":12600,"y":73},{"l":4,"x":13200,"y":74},{"l":4,"x":13800,"y":72},{"l":4,"x":14400,"y":76},{"l":4,"x":15000,"y":78},{"l":4,"x":15600,"y":75},{"l":4,"x":16200,"y":72.5},{"l":4,"x":16800,"y":69},{"l":4,"x":17400,"y":66},{"l":4,"x":18000,"y":63},{"l":4,"x":18600,"y":60.5},{"l":4,"x":19200,"y":58},{"l":4,"x":19800,"y":56.5},{"l":4,"x":20400,"y":54.5},{"l":4,"x":21000,"y":53},{"l":4,"x":21600,"y":52},{"l":4,"x":22200,"y":51.4}
],
"b3":[
{"l":1,"x":0,"y":56},{"l":1,"x":600,"y":65},{"l":1,"x":1500,"y":70},{"l":1,"x":2050,"y":73},{"l":1,"x":2600,"y":66},{"l":1,"x":3500,"y":81},{"l":1,"x":4500,"y":79},{"l":1,"x":5600,"y":82.5},{"l":1,"x":6700,"y":58},{"l":1,"x":7700,"y":70},{"l":1,"x":8100,"y":74},{"l":1,"x":8500,"y":66},{"l":1,"x":9000,"y":76},{"l":1,"x":10000,"y":63},{"l":1,"x":11000,"y":80},{"l":1,"x":11800,"y":63},{"l":1,"x":13000,"y":80},{"l":1,"x":13550,"y":67},{"l":1,"x":14400,"y":82.5},{"l":1,"x":15100,"y":83},{"l":1,"x":15900,"y":68},{"l":1,"x":16600,"y":58},{"l":1,"x":17500,"y":50},{"l":1,"x":18300,"y":46},{"l":1,"x":19200,"y":43.5},{"l":1,"x":20500,"y":43.5},{"l":1,"x":22200,"y":43.5},
{"l":2,"x":0,"y":55},{"l":2,"x":600,"y":63.5},{"l":2,"x":1500,"y":69.4},{"l":2,"x":2050,"y":72},{"l":2,"x":2600,"y":65},{"l":2,"x":3500,"y":76.5},{"l":2,"x":4500,"y":75},{"l":2,"x":5600,"y":76.8},{"l":2,"x":6700,"y":57},{"l":2,"x":7700,"y":69.4},{"l":2,"x":8100,"y":73.5},{"l":2,"x":8500,"y":65},{"l":2,"x":9000,"y":73.5},{"l":2,"x":10000,"y":62.4},{"l":2,"x":11000,"y":77},{"l":2,"x":11800,"y":62.4},{"l":2,"x":13000,"y":77},{"l":2,"x":13550,"y":66.2},{"l":2,"x":14400,"y":78.8},{"l":2,"x":15100,"y":79},{"l":2,"x":15900,"y":67.3},{"l":2,"x":16600,"y":57},{"l":2,"x":17500,"y":49.5},{"l":2,"x":18300,"y":45.3},{"l":2,"x":19200,"y":42.9},{"l":2,"x":20500,"y":42.9},{"l":2,"x":22200,"y":42.9},
{"l":3,"x":0,"y":54},{"l":3,"x":600,"y":62},{"l":3,"x":1500,"y":68.8},{"l":3,"x":2050,"y":71},{"l":3,"x":2600,"y":64},{"l":3,"x":3500,"y":72},{"l":3,"x":4500,"y":71},{"l":3,"x":5600,"y":71},{"l":3,"x":6700,"y":56},{"l":3,"x":7700,"y":68.8},{"l":3,"x":8100,"y":73},{"l":3,"x":8500,"y":64},{"l":3,"x":9000,"y":71},{"l":3,"x":10000,"y":61.8},{"l":3,"x":11000,"y":74},{"l":3,"x":11800,"y":61.8},{"l":3,"x":13000,"y":74},{"l":3,"x":13550,"y":65.3},{"l":3,"x":14400,"y":75},{"l":3,"x":15100,"y":75},{"l":3,"x":15900,"y":66.5},{"l":3,"x":16600,"y":56},{"l":3,"x":17500,"y":49},{"l":3,"x":18300,"y":44.5},{"l":3,"x":19200,"y":42.2},{"l":3,"x":20500,"y":42.2},{"l":3,"x":22200,"y":42.2},
{"l":4,"x":0,"y":52.8},{"l":4,"x":600,"y":60},{"l":4,"x":1500,"y":66.9},{"l":4,"x":2050,"y":69},{"l":4,"x":2600,"y":62.5},{"l":4,"x":3500,"y":70},{"l":4,"x":4500,"y":69},{"l":4,"x":5600,"y":68.8},{"l":4,"x":6700,"y":55},{"l":4,"x":7700,"y":67.4},{"l":4,"x":8100,"y":71.5},{"l":4,"x":8500,"y":63},{"l":4,"x":9000,"y":69.5},{"l":4,"x":10000,"y":60.9},{"l":4,"x":11000,"y":72},{"l":4,"x":11800,"y":60.9},{"l":4,"x":13000,"y":72},{"l":4,"x":13550,"y":64.2},{"l":4,"x":14400,"y":72.5},{"l":4,"x":15100,"y":73},{"l":4,"x":15900,"y":64.8},{"l":4,"x":16600,"y":54.5},{"l":4,"x":17500,"y":48},{"l":4,"x":18300,"y":43.8},{"l":4,"x":19200,"y":41.9},{"l":4,"x":20500,"y":41.6},{"l":4,"x":22200,"y":41.6},
{"l":5,"x":0,"y":51.5},{"l":5,"x":600,"y":58},{"l":5,"x":1500,"y":65},{"l":5,"x":2050,"y":67},{"l":5,"x":2600,"y":61},{"l":5,"x":3500,"y":68},{"l":5,"x":4500,"y":67},{"l":5,"x":5600,"y":66.5},{"l":5,"x":6700,"y":54},{"l":5,"x":7700,"y":66},{"l":5,"x":8100,"y":70},{"l":5,"x":8500,"y":62},{"l":5,"x":9000,"y":68},{"l":5,"x":10000,"y":60},{"l":5,"x":11000,"y":70},{"l":5,"x":11800,"y":60},{"l":5,"x":13000,"y":70},{"l":5,"x":13550,"y":63},{"l":5,"x":14400,"y":70},{"l":5,"x":15100,"y":71},{"l":5,"x":15900,"y":63},{"l":5,"x":16600,"y":53},{"l":5,"x":17500,"y":47},{"l":5,"x":18300,"y":43},{"l":5,"x":19200,"y":41.5},{"l":5,"x":20500,"y":41},{"l":5,"x":22200,"y":41}
],
"b4":[
{"l":1,"x":0,"y":81},{"l":1,"x":150,"y":92},{"l":1,"x":300,"y":104},{"l":1,"x":600,"y":114},{"l":1,"x":1000,"y":121},{"l":1,"x":1500,"y":128},{"l":1,"x":2000,"y":131},{"l":1,"x":2230,"y":134},{"l":1,"x":2500,"y":122},{"l":1,"x":2720,"y":105},{"l":1,"x":3000,"y":120},{"l":1,"x":3300,"y":129},{"l":1,"x":3730,"y":133.5},{"l":1,"x":4200,"y":133},{"l":1,"x":4600,"y":130},{"l":1,"x":4970,"y":126},{"l":1,"x":5400,"y":128},{"l":1,"x":5855,"y":132},{"l":1,"x":6150,"y":118},{"l":1,"x":6400,"y":100},{"l":1,"x":6650,"y":84},{"l":1,"x":6900,"y":98},{"l":1,"x":7180,"y":111},{"l":1,"x":7600,"y":118},{"l":1,"x":8070,"y":124},{"l":1,"x":8300,"y":119},{"l":1,"x":8510,"y":110},{"l":1,"x":8750,"y":124},{"l":1,"x":8950,"y":134},{"l":1,"x":9200,"y":122},{"l":1,"x":9500,"y":106},{"l":1,"x":9930,"y":93},{"l":1,"x":10300,"y":112},{"l":1,"x":10630,"y":128},{"l":1,"x":11070,"y":125},{"l":1,"x":11400,"y":115},{"l":1,"x":11770,"y":100},{"l":1,"x":12100,"y":118},{"l":1,"x":12490,"y":129},{"l":1,"x":13020,"y":131.5},{"l":1,"x":13300,"y":119},{"l":1,"x":13590,"y":106},{"l":1,"x":13900,"y":124},{"l":1,"x":14090,"y":132},{"l":1,"x":14600,"y":133},{"l":1,"x":15060,"y":135},{"l":1,"x":15400,"y":122},{"l":1,"x":15680,"y":106},{"l":1,"x":16120,"y":92},{"l":1,"x":16560,"y":76},{"l":1,"x":17000,"y":64},{"l":1,"x":17450,"y":57},{"l":1,"x":18330,"y":48},{"l":1,"x":19210,"y":44.5},{"l":1,"x":20100,"y":43},{"l":1,"x":22200,"y":43.5},
{"l":2,"x":0,"y":81},{"l":2,"x":150,"y":90},{"l":2,"x":300,"y":101.5},{"l":2,"x":600,"y":109.5},{"l":2,"x":1000,"y":113.5},{"l":2,"x":1500,"y":118.5},{"l":2,"x":2000,"y":122.5},{"l":2,"x":2230,"y":126.5},{"l":2,"x":2500,"y":116.5},{"l":2,"x":2720,"y":105},{"l":2,"x":3000,"y":117.5},{"l":2,"x":3300,"y":122.5},{"l":2,"x":3730,"y":125.5},{"l":2,"x":4200,"y":123.5},{"l":2,"x":4600,"y":121.5},{"l":2,"x":4970,"y":119.5},{"l":2,"x":5400,"y":121.5},{"l":2,"x":5855,"y":124.5},{"l":2,"x":6150,"y":112.5},{"l":2,"x":6400,"y":98},{"l":2,"x":6650,"y":85},{"l":2,"x":6900,"y":98},{"l":2,"x":7180,"y":108.5},{"l":2,"x":7600,"y":114.5},{"l":2,"x":8070,"y":120},{"l":2,"x":8300,"y":113.5},{"l":2,"x":8510,"y":105.5},{"l":2,"x":8750,"y":120.5},{"l":2,"x":8950,"y":129.5},{"l":2,"x":9200,"y":119.5},{"l":2,"x":9500,"y":104},{"l":2,"x":9930,"y":94},{"l":2,"x":10300,"y":110.5},{"l":2,"x":10630,"y":120.5},{"l":2,"x":11070,"y":120.5},{"l":2,"x":11400,"y":112.5},{"l":2,"x":11770,"y":100.5},{"l":2,"x":12100,"y":115.5},{"l":2,"x":12490,"y":124.5},{"l":2,"x":13020,"y":119.5},{"l":2,"x":13300,"y":112.5},{"l":2,"x":13590,"y":106},{"l":2,"x":13900,"y":120.5},{"l":2,"x":14090,"y":125.5},{"l":2,"x":14600,"y":126.5},{"l":2,"x":15060,"y":127.5},{"l":2,"x":15400,"y":119.5},{"l":2,"x":15680,"y":105},{"l":2,"x":16120,"y":91},{"l":2,"x":16560,"y":76},{"l":2,"x":17000,"y":65.5},{"l":2,"x":17450,"y":57.5},{"l":2,"x":18330,"y":47.5},{"l":2,"x":19210,"y":44},{"l":2,"x":20100,"y":42.5},{"l":2,"x":22200,"y":42.5},
{"l":3,"x":0,"y":80},{"l":3,"x":150,"y":88},{"l":3,"x":300,"y":99},{"l":3,"x":600,"y":107},{"l":3,"x":1000,"y":111},{"l":3,"x":1500,"y":116},{"l":3,"x":2000,"y":120},{"l":3,"x":2230,"y":124},{"l":3,"x":2500,"y":114},{"l":3,"x":2720,"y":104},{"l":3,"x":3000,"y":115},{"l":3,"x":3300,"y":120},{"l":3,"x":3730,"y":123},{"l":3,"x":4200,"y":121},{"l":3,"x":4600,"y":119},{"l":3,"x":4970,"y":117},{"l":3,"x":5400,"y":119},{"l":3,"x":5855,"y":122},{"l":3,"x":6150,"y":110},{"l":3,"x":6400,"y":97},{"l":3,"x":6650,"y":84},{"l":3,"x":6900,"y":97},{"l":3,"x":7180,"y":106},{"l":3,"x":7600,"y":112},{"l":3,"x":8070,"y":117.5},{"l":3,"x":8300,"y":111},{"l":3,"x":8510,"y":104.5},{"l":3,"x":8750,"y":118},{"l":3,"x":8950,"y":127},{"l":3,"x":9200,"y":117},{"l":3,"x":9500,"y":103},{"l":3,"x":9930,"y":93},{"l":3,"x":10300,"y":108},{"l":3,"x":10630,"y":118},{"l":3,"x":11070,"y":118},{"l":3,"x":11400,"y":110},{"l":3,"x":11770,"y":99.5},{"l":3,"x":12100,"y":113},{"l":3,"x":12490,"y":122},{"l":3,"x":13020,"y":117},{"l":3,"x":13300,"y":110},{"l":3,"x":13590,"y":105},{"l":3,"x":13900,"y":118},{"l":3,"x":14090,"y":123},{"l":3,"x":14600,"y":124},{"l":3,"x":15060,"y":125},{"l":3,"x":15400,"y":117},{"l":3,"x":15680,"y":104},{"l":3,"x":16120,"y":90},{"l":3,"x":16560,"y":75},{"l":3,"x":17000,"y":65},{"l":3,"x":17450,"y":57},{"l":3,"x":18330,"y":47},{"l":3,"x":19210,"y":43.3},{"l":3,"x":20100,"y":41.6},{"l":3,"x":22200,"y":41},
{"l":4,"x":0,"y":79},{"l":4,"x":150,"y":86},{"l":4,"x":300,"y":96.5},{"l":4,"x":600,"y":104.5},{"l":4,"x":1000,"y":108.5},{"l":4,"x":1500,"y":113.5},{"l":4,"x":2000,"y":117.5},{"l":4,"x":2230,"y":121.5},{"l":4,"x":2500,"y":111.5},{"l":4,"x":2720,"y":103},{"l":4,"x":3000,"y":112.5},{"l":4,"x":3300,"y":117.5},{"l":4,"x":3730,"y":120.5},{"l":4,"x":4200,"y":118.5},{"l":4,"x":4600,"y":116.5},{"l":4,"x":4970,"y":114.5},{"l":4,"x":5400,"y":116.5},{"l":4,"x":5855,"y":119.5},{"l":4,"x":6150,"y":107.5},{"l":4,"x":6400,"y":96},{"l":4,"x":6650,"y":83},{"l":4,"x":6900,"y":96},{"l":4,"x":7180,"y":103.5},{"l":4,"x":7600,"y":109.5},{"l":4,"x":8070,"y":115},{"l":4,"x":8300,"y":108.5},{"l":4,"x":8510,"y":103.5},{"l":4,"x":8750,"y":115.5},{"l":4,"x":8950,"y":124.5},{"l":4,"x":9200,"y":114.5},{"l":4,"x":9500,"y":102},{"l":4,"x":9930,"y":92},{"l":4,"x":10300,"y":105.5},{"l":4,"x":10630,"y":115.5},{"l":4,"x":11070,"y":115.5},{"l":4,"x":11400,"y":107.5},{"l":4,"x":11770,"y":98.5},{"l":4,"x":12100,"y":110.5},{"l":4,"x":12490,"y":119.5},{"l":4,"x":13020,"y":114.5},{"l":4,"x":13300,"y":107.5},{"l":4,"x":13590,"y":104},{"l":4,"x":13900,"y":115.5},{"l":4,"x":14090,"y":120.5},{"l":4,"x":14600,"y":121.5},{"l":4,"x":15060,"y":122.5},{"l":4,"x":15400,"y":114.5},{"l":4,"x":15680,"y":103},{"l":4,"x":16120,"y":89},{"l":4,"x":16560,"y":74},{"l":4,"x":17000,"y":64.5},{"l":4,"x":17450,"y":56.5},{"l":4,"x":18330,"y":46},{"l":4,"x":19210,"y":42.5},{"l":4,"x":20100,"y":40},{"l":4,"x":22200,"y":39},
{"l":5,"x":0,"y":80.5},{"l":5,"x":150,"y":89},{"l":5,"x":300,"y":100},{"l":5,"x":600,"y":108},{"l":5,"x":1000,"y":112.5},{"l":5,"x":1500,"y":117},{"l":5,"x":2000,"y":121},{"l":5,"x":2230,"y":125},{"l":5,"x":2500,"y":115},{"l":5,"x":2720,"y":104.5},{"l":5,"x":3000,"y":116},{"l":5,"x":3300,"y":121.5},{"l":5,"x":3730,"y":124},{"l":5,"x":4200,"y":122.5},{"l":5,"x":4600,"y":120},{"l":5,"x":4970,"y":118},{"l":5,"x":5400,"y":120.5},{"l":5,"x":5855,"y":123},{"l":5,"x":6150,"y":111},{"l":5,"x":6400,"y":97.5},{"l":5,"x":6650,"y":84.5},{"l":5,"x":6900,"y":97.5},{"l":5,"x":7180,"y":108},{"l":5,"x":7600,"y":115},{"l":5,"x":8070,"y":121},{"l":5,"x":8300,"y":115},{"l":5,"x":8510,"y":106},{"l":5,"x":8750,"y":121},{"l":5,"x":8950,"y":131},{"l":5,"x":9200,"y":120},{"l":5,"x":9500,"y":105},{"l":5,"x":9930,"y":93.5},{"l":5,"x":10300,"y":110},{"l":5,"x":10630,"y":124},{"l":5,"x":11070,"y":122},{"l":5,"x":11400,"y":113},{"l":5,"x":11770,"y":100},{"l":5,"x":12100,"y":116},{"l":5,"x":12490,"y":126},{"l":5,"x":13020,"y":124},{"l":5,"x":13300,"y":114},{"l":5,"x":13590,"y":105.5},{"l":5,"x":13900,"y":121},{"l":5,"x":14090,"y":128},{"l":5,"x":14600,"y":129},{"l":5,"x":15060,"y":130},{"l":5,"x":15400,"y":120},{"l":5,"x":15680,"y":105},{"l":5,"x":16120,"y":91},{"l":5,"x":16560,"y":75.5},{"l":5,"x":17000,"y":65},{"l":5,"x":17450,"y":57},{"l":5,"x":18330,"y":47},{"l":5,"x":19210,"y":43.5},{"l":5,"x":20100,"y":42},{"l":5,"x":22200,"y":42}
],
"b5":[
{"l":1,"x":0,"y":72},{"l":1,"x":600,"y":77},{"l":1,"x":2050,"y":87},{"l":1,"x":2850,"y":80},{"l":1,"x":4300,"y":87},{"l":1,"x":5700,"y":94},{"l":1,"x":6650,"y":79},{"l":1,"x":7980,"y":88.5},{"l":1,"x":8420,"y":81},{"l":1,"x":8950,"y":86},{"l":1,"x":10020,"y":75.5},{"l":1,"x":11080,"y":85},{"l":1,"x":11960,"y":76.5},{"l":1,"x":13020,"y":87},{"l":1,"x":13820,"y":81},{"l":1,"x":14970,"y":90},{"l":1,"x":15860,"y":79},{"l":1,"x":16920,"y":73},{"l":1,"x":18330,"y":69.5},{"l":1,"x":20100,"y":64},{"l":1,"x":22200,"y":58},
{"l":2,"x":0,"y":70.5},{"l":2,"x":600,"y":75.3},{"l":2,"x":2050,"y":85.5},{"l":2,"x":2850,"y":78.9},{"l":2,"x":4300,"y":85.8},{"l":2,"x":5700,"y":92.3},{"l":2,"x":6650,"y":77.8},{"l":2,"x":7980,"y":87.1},{"l":2,"x":8420,"y":80},{"l":2,"x":8950,"y":84.8},{"l":2,"x":10020,"y":74.5},{"l":2,"x":11080,"y":83.8},{"l":2,"x":11960,"y":75.4},{"l":2,"x":13020,"y":85.8},{"l":2,"x":13820,"y":79.9},{"l":2,"x":14970,"y":88.5},{"l":2,"x":15860,"y":78},{"l":2,"x":16920,"y":72},{"l":2,"x":18330,"y":68.4},{"l":2,"x":20100,"y":62.9},{"l":2,"x":22200,"y":56.6},
{"l":3,"x":0,"y":69},{"l":3,"x":600,"y":73.5},{"l":3,"x":2050,"y":84},{"l":3,"x":2850,"y":77.8},{"l":3,"x":4300,"y":84.5},{"l":3,"x":5700,"y":90.5},{"l":3,"x":6650,"y":76.5},{"l":3,"x":7980,"y":85.8},{"l":3,"x":8420,"y":79},{"l":3,"x":8950,"y":83.5},{"l":3,"x":10020,"y":73.5},{"l":3,"x":11080,"y":82.5},{"l":3,"x":11960,"y":74.3},{"l":3,"x":13020,"y":84.5},{"l":3,"x":13820,"y":78.8},{"l":3,"x":14970,"y":87},{"l":3,"x":15860,"y":77},{"l":3,"x":16920,"y":71},{"l":3,"x":18330,"y":67.3},{"l":3,"x":20100,"y":61.8},{"l":3,"x":22200,"y":55.9},
{"l":4,"x":0,"y":67.5},{"l":4,"x":600,"y":71.8},{"l":4,"x":2050,"y":82.5},{"l":4,"x":2850,"y":76.6},{"l":4,"x":4300,"y":83.3},{"l":4,"x":5700,"y":88.8},{"l":4,"x":6650,"y":75.3},{"l":4,"x":7980,"y":84.4},{"l":4,"x":8420,"y":78},{"l":4,"x":8950,"y":82.3},{"l":4,"x":10020,"y":72.5},{"l":4,"x":11080,"y":81.3},{"l":4,"x":11960,"y":73.1},{"l":4,"x":13020,"y":83.3},{"l":4,"x":13820,"y":77.6},{"l":4,"x":14970,"y":85.5},{"l":4,"x":15860,"y":76},{"l":4,"x":16920,"y":70},{"l":4,"x":18330,"y":66.1},{"l":4,"x":20100,"y":60.6},{"l":4,"x":22200,"y":54.8},
{"l":5,"x":0,"y":66},{"l":5,"x":600,"y":70},{"l":5,"x":2050,"y":81},{"l":5,"x":2850,"y":75.5},{"l":5,"x":4300,"y":82},{"l":5,"x":5700,"y":87},{"l":5,"x":6650,"y":74},{"l":5,"x":7980,"y":83},{"l":5,"x":8420,"y":77},{"l":5,"x":8950,"y":81},{"l":5,"x":10020,"y":71.5},{"l":5,"x":11080,"y":80},{"l":5,"x":11960,"y":72},{"l":5,"x":13020,"y":82},{"l":5,"x":13820,"y":76.5},{"l":5,"x":14970,"y":84},{"l":5,"x":15860,"y":75},{"l":5,"x":16920,"y":69},{"l":5,"x":18330,"y":65},{"l":5,"x":20100,"y":59.5},{"l":5,"x":22200,"y":53.7}
]
},
"hconcat":[
{
"width":462,"height":312,
"encoding":{
"x":{"field":"x","type":"quantitative","scale":{"domain":[-935,18980],"nice":false,"zero":false},"axis":{"values":[0,5000,10000,15000],"format":"d","title":["Sample number","(a)"],"titleX":236,"titleLineHeight":26.6}},
"y":{"field":"y","type":"quantitative","scale":{"domain":[24.9,133.2],"nice":false,"zero":false},"axis":{"values":[50,100],"format":"d","title":"Temperature (°C)","titleY":166,"labelPadding":10,"titlePadding":12}},
"detail":{"field":"l","type":"nominal"}
},
"layer":[
{"layer":[
{"data":{"name":"a1"},"mark":{"type":"line","interpolate":"step-after","strokeWidth":1},"encoding":{"color":{"datum":"Cluster1","type":"nominal","scale":{"domain":["Cluster1","Cluster2","Cluster3"],"range":["#ec2d2d","#2e7d36","#2457a7"]},"legend":{"title":null,"orient":"none","legendX":71,"legendY":102.3,"rowPadding":0}}}},
{"data":{"name":"a2"},"mark":{"type":"line","interpolate":"step-after","strokeWidth":1},"encoding":{"color":{"datum":"Cluster2","type":"nominal","scale":{"domain":["Cluster1","Cluster2","Cluster3"],"range":["#ec2d2d","#2e7d36","#2457a7"]},"legend":{"title":null,"orient":"none","legendX":71,"legendY":102.3,"rowPadding":0}}}},
{"data":{"name":"a3"},"mark":{"type":"line","strokeWidth":1},"encoding":{"color":{"datum":"Cluster3","type":"nominal","scale":{"domain":["Cluster1","Cluster2","Cluster3"],"range":["#ec2d2d","#2e7d36","#2457a7"]},"legend":{"title":null,"orient":"none","legendX":71,"legendY":102.3,"rowPadding":0}}}}
]},
{"layer":[
{"data":{"name":"a4"},"mark":{"type":"line","strokeWidth":1},"encoding":{"color":{"datum":"Cluster4","type":"nominal","scale":{"domain":["Cluster4","Cluster5"],"range":["#b4b22e","#f6b4c3"]},"legend":{"title":null,"orient":"none","legendX":217,"legendY":266.3,"rowPadding":0}}}},
{"data":{"name":"a5"},"mark":{"type":"line","strokeWidth":1},"encoding":{"color":{"datum":"Cluster5","type":"nominal","scale":{"domain":["Cluster4","Cluster5"],"range":["#b4b22e","#f6b4c3"]},"legend":{"title":null,"orient":"none","legendX":217,"legendY":266.3,"rowPadding":0}}}}
]}
],
"resolve":{"scale":{"color":"independent"}}
},
{
"width":462,"height":312,
"encoding":{
"x":{"field":"x","type":"quantitative","scale":{"domain":[-1113,23381],"nice":false,"zero":false},"axis":{"values":[0,10000,20000],"format":"d","title":["Sample number","(b)"],"titleX":238,"titleLineHeight":26.6}},
"y":{"field":"y","type":"quantitative","scale":{"domain":[31.9,140.2],"nice":false,"zero":false},"axis":{"values":[50,100],"format":"d","title":"Temperature (°C)","titleY":184,"labelPadding":7.5,"titlePadding":11}},
"detail":{"field":"l","type":"nominal"}
},
"layer":[
{"data":{"name":"b1"},"mark":{"type":"line","interpolate":"step-after","strokeWidth":1},"encoding":{"color":{"datum":"Cluster1","type":"nominal","scale":{"domain":["Cluster1","Cluster2","Cluster3","Cluster4","Cluster5"],"range":["#ec2d2d","#2e7d36","#2457a7","#b4b22e","#f6b4c3"]},"legend":{"title":null,"orient":"none","legendX":356,"legendY":14.7,"rowPadding":1}}}},
{"data":{"name":"b2"},"mark":{"type":"line","interpolate":"step-after","strokeWidth":1},"encoding":{"color":{"datum":"Cluster2","type":"nominal","scale":{"domain":["Cluster1","Cluster2","Cluster3","Cluster4","Cluster5"],"range":["#ec2d2d","#2e7d36","#2457a7","#b4b22e","#f6b4c3"]},"legend":{"title":null,"orient":"none","legendX":356,"legendY":14.7,"rowPadding":1}}}},
{"data":{"name":"b3"},"mark":{"type":"line","strokeWidth":1},"encoding":{"color":{"datum":"Cluster3","type":"nominal","scale":{"domain":["Cluster1","Cluster2","Cluster3","Cluster4","Cluster5"],"range":["#ec2d2d","#2e7d36","#2457a7","#b4b22e","#f6b4c3"]},"legend":{"title":null,"orient":"none","legendX":356,"legendY":14.7,"rowPadding":1}}}},
{"data":{"name":"b4"},"mark":{"type":"line","strokeWidth":1},"encoding":{"color":{"datum":"Cluster4","type":"nominal","scale":{"domain":["Cluster1","Cluster2","Cluster3","Cluster4","Cluster5"],"range":["#ec2d2d","#2e7d36","#2457a7","#b4b22e","#f6b4c3"]},"legend":{"title":null,"orient":"none","legendX":356,"legendY":14.7,"rowPadding":1}}}},
{"data":{"name":"b5"},"mark":{"type":"line","strokeWidth":1},"encoding":{"color":{"datum":"Cluster5","type":"nominal","scale":{"domain":["Cluster1","Cluster2","Cluster3","Cluster4","Cluster5"],"range":["#ec2d2d","#2e7d36","#2457a7","#b4b22e","#f6b4c3"]},"legend":{"title":null,"orient":"none","legendX":356,"legendY":14.7,"rowPadding":1}}}}
]
}
]
}
